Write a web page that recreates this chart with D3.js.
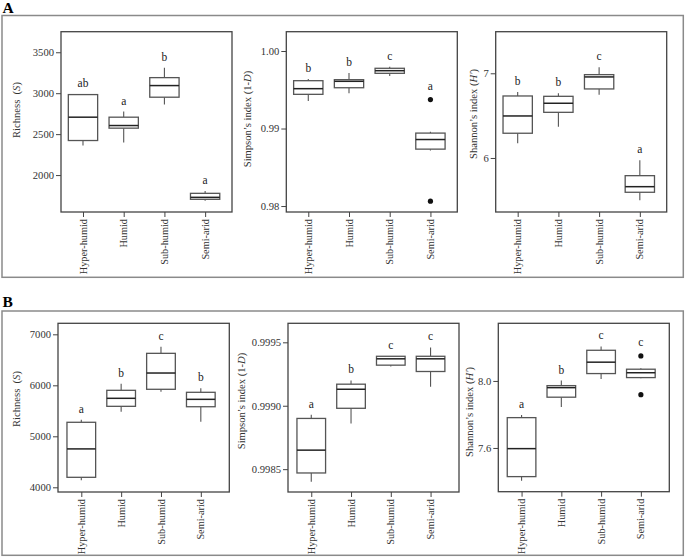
<!DOCTYPE html>
<html>
<head>
<meta charset="utf-8">
<script src="https://cdn.jsdelivr.net/npm/d3@7"></script>
<style>
  body { margin: 0; background: #fff; }
  text { font-family: "Liberation Serif", "Times New Roman", serif; fill: #222; }
</style>
</head>
<body>
<script>
const categories = ["Hyper-humid", "Humid", "Sub-humid", "Semi-arid"];

// box summaries: [lower whisker, Q1, median, Q3, upper whisker]
const richnessA = [[2361, 2422, 2707, 2983, 2990], [2398, 2573, 2605, 2707, 2776], [2861, 2951, 3093, 3190, 3312], [1687, 1704, 1728, 1777, 1805]];
const richnessAOutliers = [[], [], [], []];
const richnessALetters = ["ab", "a", "b", "a"];

const simpsonA = [[0.99355, 0.99441, 0.99514, 0.99617, 0.99639], [0.99454, 0.99526, 0.99609, 0.99630, 0.99716], [0.99677, 0.99712, 0.99746, 0.99777, 0.99797], [0.98716, 0.98734, 0.98858, 0.98941, 0.98957]];
const simpsonAOutliers = [[], [], [], [0.99374, 0.98063]];
const simpsonALetters = ["b", "b", "c", "a"];

const shannonA = [[6.173, 6.292, 6.496, 6.732, 6.779], [6.370, 6.539, 6.646, 6.728, 6.764], [6.747, 6.815, 6.957, 6.984, 7.071], [5.501, 5.595, 5.661, 5.791, 5.972]];
const shannonAOutliers = [[], [], [], []];
const shannonALetters = ["b", "b", "c", "a"];

const richnessB = [[4137, 4196, 4753, 5275, 5327], [5482, 5588, 5745, 5902, 6033], [5875, 5922, 6241, 6627, 6757], [5286, 5580, 5725, 5863, 5941]];
const richnessBOutliers = [[], [], [], []];
const richnessBLetters = ["a", "b", "c", "b"];

const simpsonB = [[0.99840, 0.99847, 0.99865, 0.99890, 0.99893], [0.99886, 0.99898, 0.99913, 0.99917, 0.99920], [0.99931, 0.99932, 0.99937, 0.99939, 0.99939], [0.99915, 0.99927, 0.99937, 0.99939, 0.99946]];
const simpsonBOutliers = [[], [], [], []];
const simpsonBLetters = ["a", "b", "c", "c"];

const shannonB = [[7.405, 7.429, 7.596, 7.781, 7.797], [7.845, 7.903, 7.960, 7.972, 8.002], [8.012, 8.044, 8.112, 8.183, 8.206], [8.016, 8.020, 8.049, 8.070, 8.076]];
const shannonBOutliers = [[], [], [], [8.149, 7.918]];
const shannonBLetters = ["a", "b", "c", "c"];

const richnessTicks = [[2000, 2500, 3000, 3500], [4000, 5000, 6000, 7000]];
const simpsonTicks = [[0.98, 0.99, 1.00], [0.9985, 0.9990, 0.9995]];
const shannonTicks = [[6, 7], [7.6, 8.0]];

const richnessLabel = [["Richness  (", false], ["S", true], [")", false]];
const simpsonLabel = [["Simpson\u2019s index (1-", false], ["D", true], [")", false]];
const shannonLabel = [["Shannon\u2019s index (", false], ["H\u2032", true], [")", false]];

const width = 685, height = 557;
const svg = d3.select("body").append("svg")
  .attr("width", width)
  .attr("height", height);

// panel frames
const frames = [
  { tag: "A", x: 2, y: 15.5, w: 681.3, h: 261.8, ty: 12.5 },
  { tag: "B", x: 2, y: 311, w: 681.3, h: 244.3, ty: 306.5 }
];
frames.forEach(f => {
  svg.append("rect")
    .attr("x", f.x).attr("y", f.y)
    .attr("width", f.w).attr("height", f.h)
    .attr("fill", "none")
    .attr("stroke", "#8a8a8a")
    .attr("stroke-width", 1.5);
  svg.append("text")
    .attr("x", 2.5).attr("y", f.ty)
    .attr("font-size", 15.5)
    .attr("font-weight", "bold")
    .style("fill", "#000")
    .text(f.tag);
});

const plots = [
  { x0: 61, y0: 31.7, x1: 232, y1: 212, domain: [1549, 3751], ticks: richnessTicks[0], fmt: d3.format("d"),
    boxes: richnessA, outliers: richnessAOutliers, letters: richnessALetters, label: richnessLabel, lx: 16.7, ly: 110, pad: 0.6 },
  { x0: 286.3, y0: 31.7, x1: 457.3, y1: 212, domain: [0.97923, 1.00249], ticks: simpsonTicks[0], fmt: d3.format(".2f"),
    boxes: simpsonA, outliers: simpsonAOutliers, letters: simpsonALetters, label: simpsonLabel, lx: 247.7, ly: 119, pad: 0.6 },
  { x0: 495.7, y0: 31.7, x1: 666.7, y1: 212, domain: [5.362, 7.491], ticks: shannonTicks[0], fmt: d3.format("d"),
    boxes: shannonA, outliers: shannonAOutliers, letters: shannonALetters, label: shannonLabel, lx: 473.3, ly: 114, pad: 0.6 },
  { x0: 58, y0: 323.3, x1: 229.3, y1: 492, domain: [3908, 7216], ticks: richnessTicks[1], fmt: d3.format("d"),
    boxes: richnessB, outliers: richnessBOutliers, letters: richnessBLetters, label: richnessLabel, lx: 16.7, ly: 399, pad: 0.65 },
  { x0: 288, y0: 323.3, x1: 459, y1: 492, domain: [0.99832, 0.99965], ticks: simpsonTicks[1], fmt: d3.format(".4f"),
    boxes: simpsonB, outliers: simpsonBOutliers, letters: simpsonBLetters, label: simpsonLabel, lx: 241, ly: 401, pad: 0.65 },
  { x0: 498.3, y0: 323.3, x1: 669.3, y1: 491.7, domain: [7.339, 8.344], ticks: shannonTicks[1], fmt: d3.format(".1f"),
    boxes: shannonB, outliers: shannonBOutliers, letters: shannonBLetters, label: shannonLabel, lx: 469, ly: 412, pad: 0.65 }
];

const boxStroke = "#555";

plots.forEach(p => {
  const x = d3.scalePoint()
    .domain(categories)
    .range([p.x0, p.x1])
    .padding(p.pad)
    .align(0.45);
  const y = d3.scaleLinear()
    .domain(p.domain)
    .range([p.y1, p.y0]);
  const boxW = x.step() * 0.72;

  const g = svg.append("g");

  // plot frame
  g.append("rect")
    .attr("x", p.x0).attr("y", p.y0)
    .attr("width", p.x1 - p.x0).attr("height", p.y1 - p.y0)
    .attr("fill", "none")
    .attr("stroke", "#444")
    .attr("stroke-width", 1.3);

  // y axis
  const yAxis = g.append("g")
    .attr("transform", `translate(${p.x0},0)`)
    .call(d3.axisLeft(y).tickValues(p.ticks).tickFormat(p.fmt).tickSize(5).tickPadding(2));
  yAxis.select(".domain").remove();
  yAxis.selectAll(".tick line").attr("stroke", "#444");
  yAxis.selectAll(".tick text")
    .attr("font-size", 10.6)
    .style("fill", "#333");

  // x axis
  const xAxis = g.append("g")
    .attr("transform", `translate(0,${p.y1})`)
    .call(d3.axisBottom(x).tickSize(5).tickFormat(""));
  xAxis.select(".domain").remove();
  xAxis.selectAll(".tick line").attr("stroke", "#444");

  g.selectAll("text.cat")
    .data(categories)
    .enter()
    .append("text")
    .attr("class", "cat")
    .attr("transform", d => `translate(${x(d)},${p.y1 + 7}) rotate(-90)`)
    .attr("text-anchor", "end")
    .attr("dy", "0.35em")
    .attr("font-size", 10.3)
    .style("fill", "#333")
    .text(d => d);

  // y label
  const lab = g.append("text")
    .attr("transform", `translate(${p.lx},${p.ly}) rotate(-90)`)
    .attr("text-anchor", "middle")
    .attr("dy", "0.35em")
    .attr("font-size", 10.6)
    .style("white-space", "pre")
    .style("fill", "#333");
  p.label.forEach(([t, it]) => {
    lab.append("tspan").attr("font-style", it ? "italic" : "normal").text(t);
  });

  const items = categories.map((c, i) => ({
    c, s: p.boxes[i], out: p.outliers[i], letter: p.letters[i]
  }));

  const box = g.selectAll("g.box")
    .data(items)
    .enter()
    .append("g")
    .attr("class", "box");

  // whiskers
  box.append("line")
    .attr("x1", d => x(d.c)).attr("x2", d => x(d.c))
    .attr("y1", d => y(d.s[0])).attr("y2", d => y(d.s[1]))
    .attr("stroke", boxStroke).attr("stroke-width", 1.1);
  box.append("line")
    .attr("x1", d => x(d.c)).attr("x2", d => x(d.c))
    .attr("y1", d => y(d.s[3])).attr("y2", d => y(d.s[4]))
    .attr("stroke", boxStroke).attr("stroke-width", 1.1);

  // boxes
  box.append("rect")
    .attr("x", d => x(d.c) - boxW / 2)
    .attr("y", d => y(d.s[3]))
    .attr("width", boxW)
    .attr("height", d => Math.max(0.5, y(d.s[1]) - y(d.s[3])))
    .attr("fill", "#fff")
    .attr("stroke", boxStroke)
    .attr("stroke-width", 1.3);

  // medians
  box.append("line")
    .attr("x1", d => x(d.c) - boxW / 2).attr("x2", d => x(d.c) + boxW / 2)
    .attr("y1", d => y(d.s[2])).attr("y2", d => y(d.s[2]))
    .attr("stroke", "#222").attr("stroke-width", 1.5);

  // outliers
  box.selectAll("circle")
    .data(d => d.out.map(v => ({ c: d.c, v })))
    .enter()
    .append("circle")
    .attr("cx", d => x(d.c))
    .attr("cy", d => y(d.v))
    .attr("r", 2.6)
    .attr("fill", "#111");

  // significance letters
  box.append("text")
    .attr("x", d => x(d.c))
    .attr("y", d => {
      const top = d3.max([d.s[4], ...d.out]);
      const extra = d.out.length && d3.max(d.out) > d.s[4] ? 3 : 0;
      return y(top) - 7 - extra;
    })
    .attr("text-anchor", "middle")
    .attr("font-size", 11.5)
    .style("fill", "#222")
    .text(d => d.letter);
});
</script>
</body>
</html>
